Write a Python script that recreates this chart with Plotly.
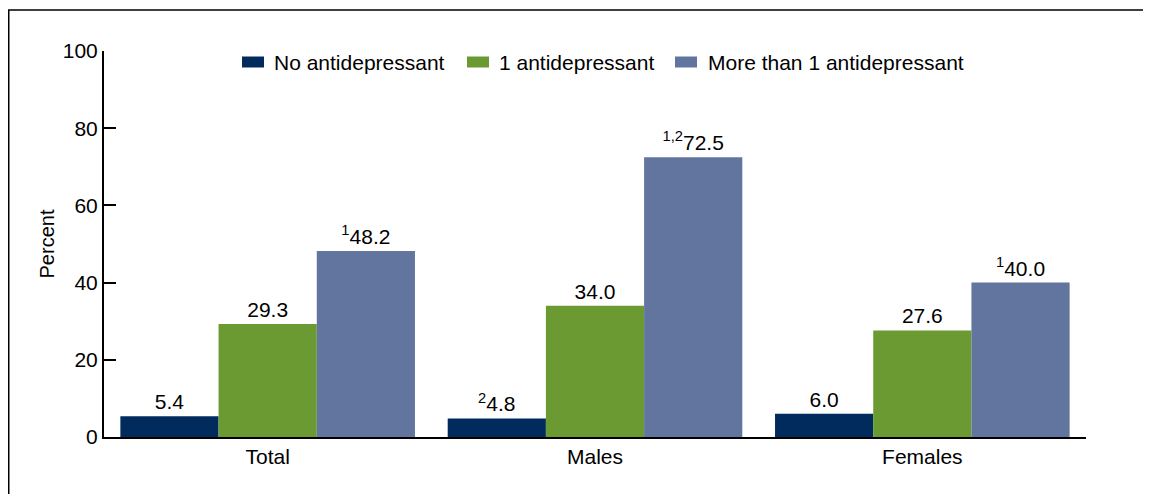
import plotly.graph_objects as go

categories = ["Total", "Males", "Females"]
series_names = ["No antidepressant", "1 antidepressant", "More than 1 antidepressant"]
no_ad = [5.4, 4.8, 6.0]
one_ad = [29.3, 34.0, 27.6]
more_ad = [48.2, 72.5, 40.0]
no_ad_labels = ["5.4", "<sup>2</sup>4.8", "6.0"]
one_ad_labels = ["29.3", "34.0", "27.6"]
more_ad_labels = ["<sup>1</sup>48.2", "<sup>1,2</sup>72.5", "<sup>1</sup>40.0"]
y_ticks = [0, 20, 40, 60, 80, 100]

colors = ["#002b5c", "#6a9a31", "#62759f"]
font = "Liberation Sans, Arial, sans-serif"

fig = go.Figure()
for name, vals, labels, c in zip(series_names, [no_ad, one_ad, more_ad],
                                 [no_ad_labels, one_ad_labels, more_ad_labels], colors):
    fig.add_trace(go.Bar(
        x=categories, y=vals, name=name, marker=dict(color=c, line=dict(width=0)),
        text=labels, textposition="outside", texttemplate="%{text}",
        textfont=dict(size=21, color="black", family=font), cliponaxis=False,
        showlegend=False,
    ))

# page body has an 8px margin; figure coords = screen coords - 8
W, H = 1143, 486
l, r, t, b = 96, 65, 43, 57
pw, ph = W - l - r, H - t - b

def px_x(x):
    return (x - l) / pw

def px_y(y):
    return (H - b - y) / ph

shapes = [dict(type="rect", xref="paper", yref="paper",
               x0=px_x(0.75), x1=px_x(1200), y0=px_y(2), y1=px_y(560),
               line=dict(color="black", width=1.5), fillcolor="rgba(0,0,0,0)", layer="below")]
annotations = []
# legend (swatch left px, text left px) in figure coords
legend_pos = [(234, 264), (459, 489), (667, 698)]
ly = 54
for (sx, tx), name, c in zip(legend_pos, series_names, colors):
    shapes.append(dict(type="rect", xref="paper", yref="paper",
                       x0=px_x(sx), x1=px_x(sx + 22), y0=px_y(ly + 5.5), y1=px_y(ly - 5.5),
                       line=dict(width=0), fillcolor=c))
    annotations.append(dict(text=name, xref="paper", yref="paper", x=px_x(tx), y=px_y(ly),
                            xanchor="left", yanchor="middle", showarrow=False,
                            font=dict(size=21, family=font, color="black")))

fig.update_layout(
    width=W, height=H, barmode="group", bargap=0.1, bargroupgap=0,
    margin=dict(l=l, r=r, t=t, b=b),
    plot_bgcolor="white", paper_bgcolor="white",
    font=dict(family=font, size=21, color="black"),
    showlegend=False,
    xaxis=dict(showline=True, linecolor="black", linewidth=2, ticks="",
               tickfont=dict(size=21), showgrid=False),
    yaxis=dict(range=[0, 100], tickvals=y_ticks, showline=True, linecolor="black",
               linewidth=2, ticks="inside", ticklen=12, tickwidth=2, tickcolor="black",
               showgrid=False, zeroline=False, tickfont=dict(size=21),
               title=dict(text="Percent", font=dict(size=20), standoff=3)),
    shapes=shapes,
    annotations=annotations,
)

fig.write_html("out.html")
